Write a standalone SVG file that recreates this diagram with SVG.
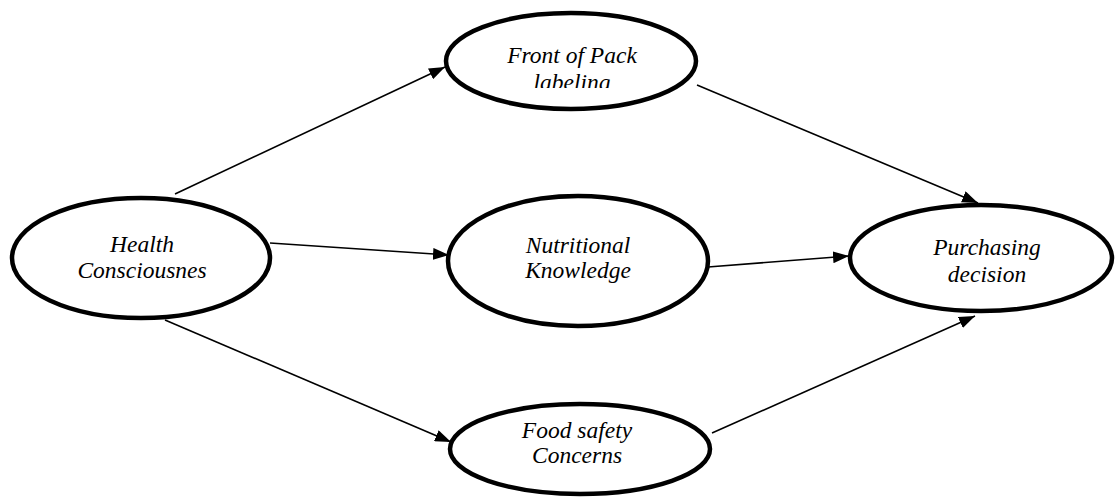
<svg xmlns="http://www.w3.org/2000/svg" width="1117" height="497" viewBox="0 0 1117 497">
<style>
.node ellipse{fill:#fff;stroke:#000;stroke-width:4.5}
.node text{font-family:"Liberation Serif","Times New Roman",serif;font-style:italic;font-size:23.5px;fill:#000;text-anchor:middle}
.conn line{stroke:#000;stroke-width:1.6}
</style>
<defs>
<marker id="ah" viewBox="0 0 16 12" refX="16" refY="6" markerWidth="16" markerHeight="12" markerUnits="userSpaceOnUse" orient="auto">
<path d="M0,0 L16,6 L0,12 Z" fill="#000"/>
</marker>
<clipPath id="clipFront"><rect x="440" y="0" width="270" height="88"/></clipPath>
</defs>
<rect width="1117" height="497" fill="#fff"/>
<g id="connectors" class="conn">
<line x1="175" y1="194" x2="445" y2="67" marker-end="url(#ah)"/>
<line x1="270" y1="243" x2="449" y2="255" marker-end="url(#ah)"/>
<line x1="165" y1="320" x2="451" y2="442" marker-end="url(#ah)"/>
<line x1="697" y1="85" x2="978" y2="203" marker-end="url(#ah)"/>
<line x1="708" y1="267" x2="849" y2="256" marker-end="url(#ah)"/>
<line x1="712" y1="433" x2="975" y2="316" marker-end="url(#ah)"/>
</g>
<g id="node-front" class="node">
<ellipse cx="571" cy="61" rx="125" ry="48"/>
<g clip-path="url(#clipFront)">
<text x="572" y="63">Front of Pack</text>
<text x="572" y="90">labeling</text>
</g>
</g>
<g id="node-health" class="node">
<ellipse cx="141" cy="258" rx="129" ry="60"/>
<text x="142" y="252">Health</text>
<text x="142" y="278">Consciousnes</text>
</g>
<g id="node-nutritional" class="node">
<ellipse cx="578" cy="261" rx="130" ry="65"/>
<text x="578" y="253">Nutritional</text>
<text x="578" y="278">Knowledge</text>
</g>
<g id="node-purchasing" class="node">
<ellipse cx="981" cy="258" rx="131" ry="53"/>
<text x="987" y="255">Purchasing</text>
<text x="987" y="282">decision</text>
</g>
<g id="node-food" class="node">
<ellipse cx="580" cy="449" rx="130" ry="45"/>
<text x="577" y="438">Food safety</text>
<text x="577" y="463">Concerns</text>
</g>
</svg>
